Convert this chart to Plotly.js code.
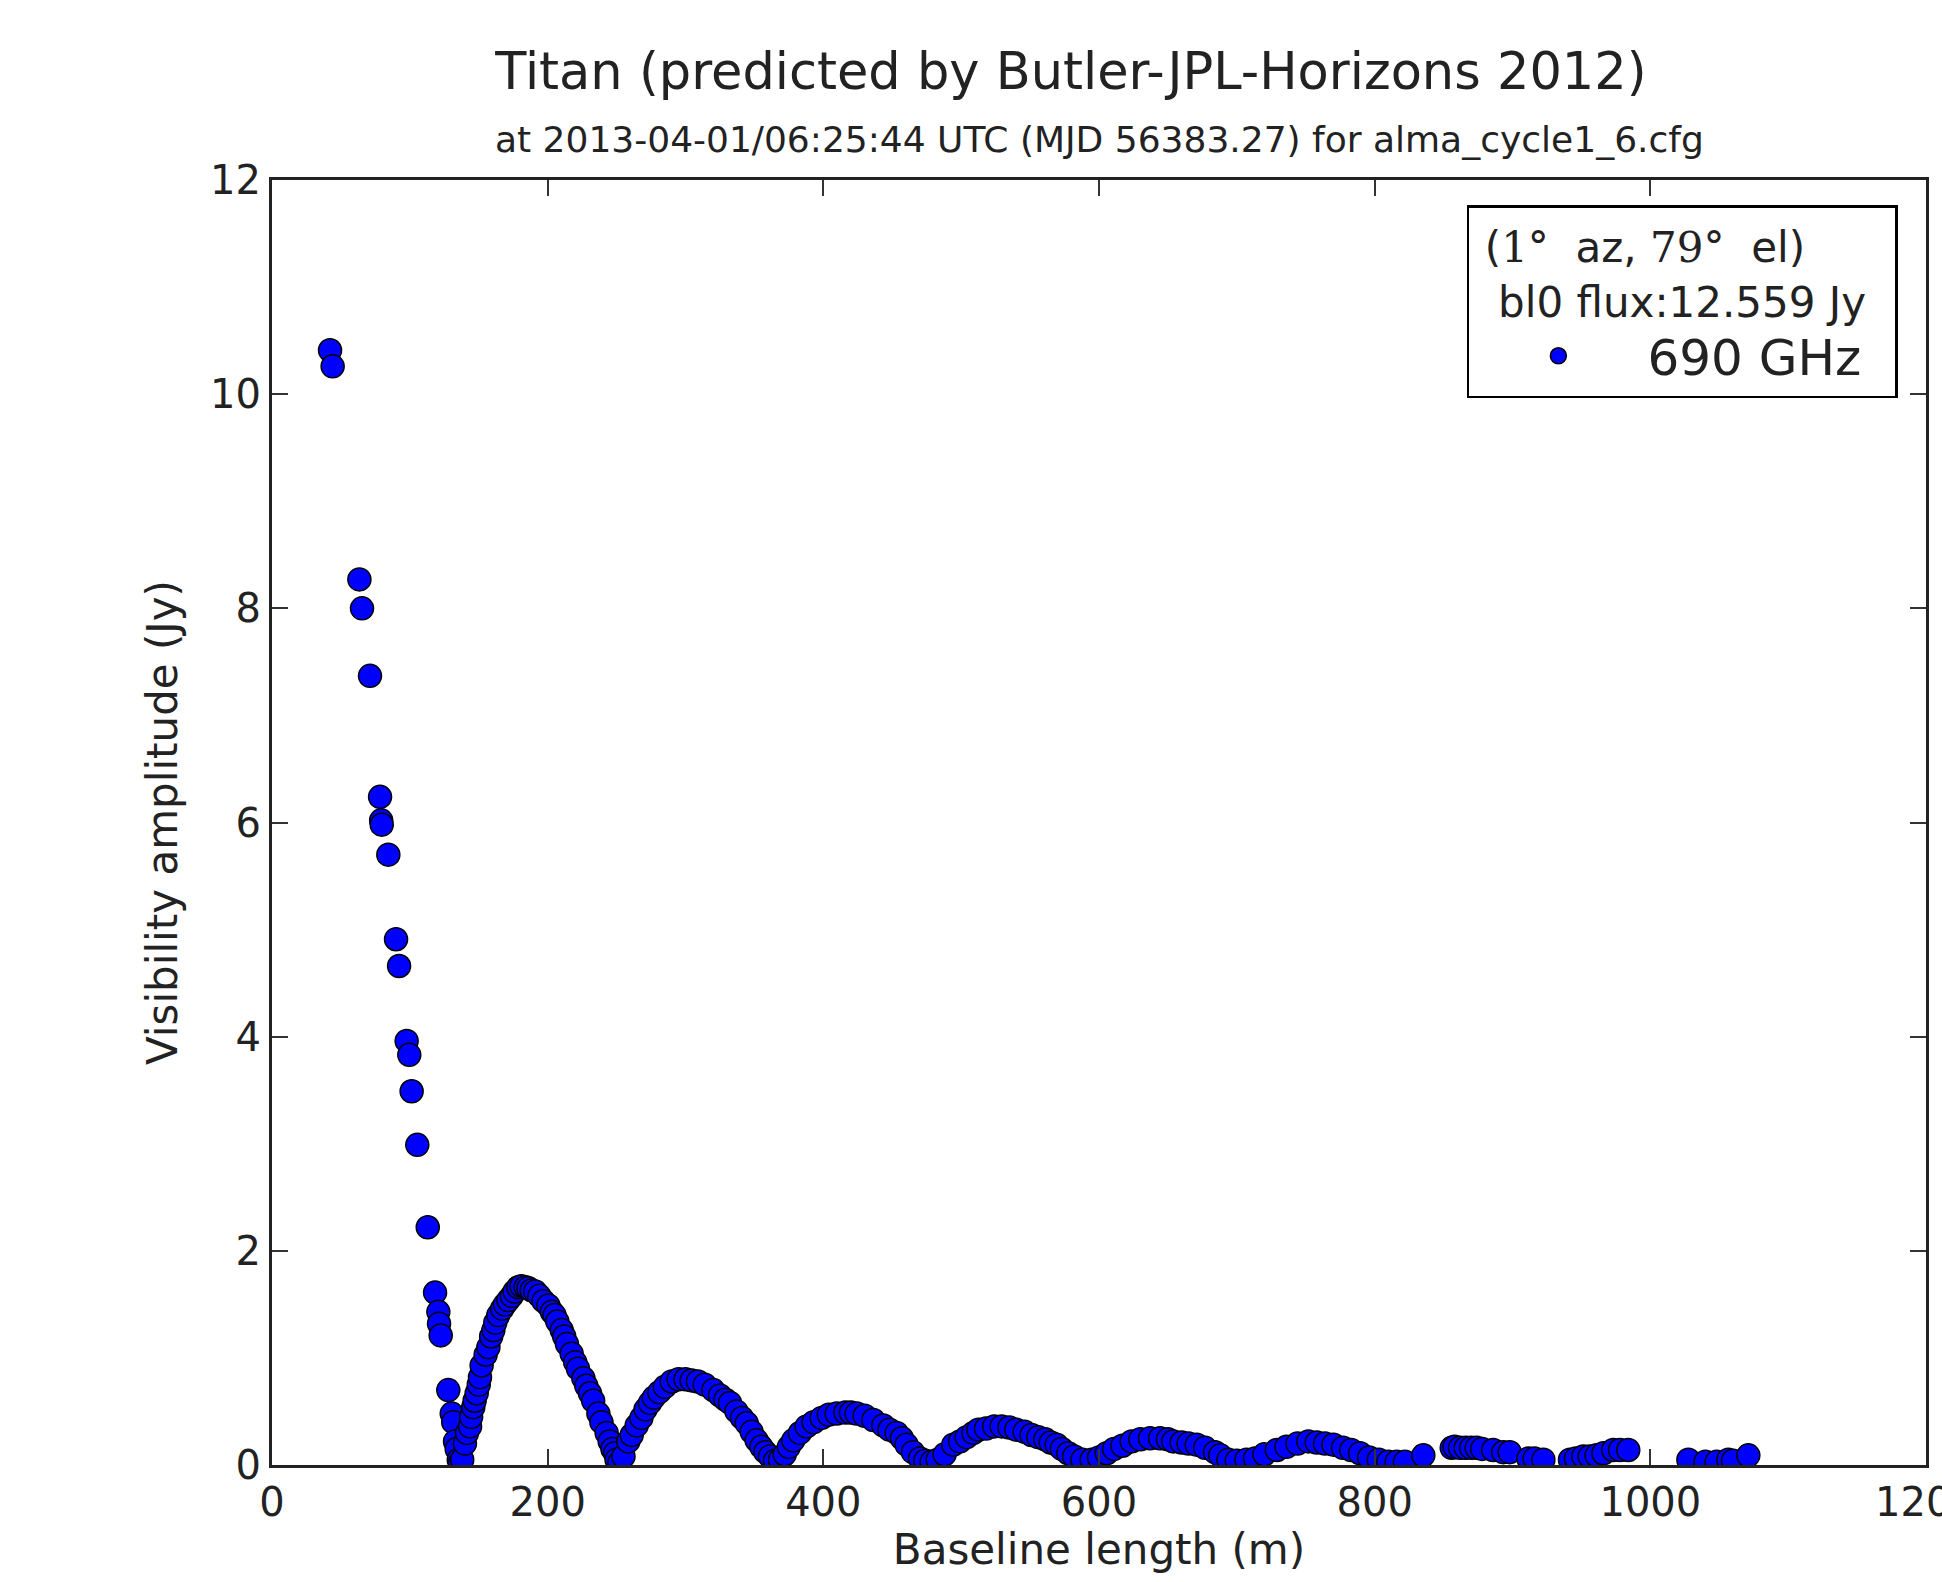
<!DOCTYPE html>
<html>
<head>
<meta charset="utf-8">
<script src="https://cdn.plot.ly/plotly-3.0.1.min.js"></script>
<style>
  html, body { margin: 0; padding: 0; background: #ffffff; }
  #chart { width: 1942px; height: 1582px; }
</style>
</head>
<body>
<div id="chart"></div>
<script>
// Baseline length (m) and visibility amplitude (Jy)
const baselineLength = [
  42.1, 44.0, 63.4, 65.3, 71.1, 78.4, 79.2, 79.6, 84.4, 90.0, 92.2, 97.7, 99.6, 101.3, 105.4, 113.0,
  118.3, 120.7, 121.2, 122.4,
  127.9, 130.4, 131.5, 132.8, 134.0, 135.5, 136.4,
  138.0, 140.0, 141.5, 143.7, 144.5, 146.0, 147.0, 148.5, 150.0, 150.9, 152.1, 155.0, 157.0, 159.0,
  160.6, 162.0, 164.2, 167.0, 169.0, 171.5, 174.0, 176.0, 178.7, 181.0, 184.0, 186.0, 188.4, 191.0,
  194.0, 197.0, 200.5, 203.0, 205.0, 207.0, 210.2, 212.0, 214.0, 217.4, 220.0, 222.0, 225.9, 228.0,
  230.7, 233.0, 236.8, 239.0, 242.8, 245.0, 247.0, 248.9, 250.0, 252.0,
  255.0, 258.5, 261.0, 264.6, 268.0, 271.0, 274.2, 277.0, 281.0, 285.0, 290.0, 295.0, 300.0, 304.5,
  309.0, 314.0, 320.2, 325.0, 329.0, 332.3, 337.0, 341.0, 344.4, 348.0, 351.6, 355.0, 358.0, 361.3,
  365.0, 368.6,
  372.0, 375.0, 378.2, 383.0, 387.9, 393.0, 398.8, 404.0, 409.7, 416.0, 420.0, 424.2, 430.0, 436.3,
  443.5, 448.0, 453.2, 457.0, 460.4, 465.0, 470.1, 474.0, 478.6, 483.0,
  488.0, 494.3, 499.2, 504.0, 508.9, 512.5, 518.0, 524.0, 529.4, 535.0, 540.0, 546.0, 551.1, 556.0,
  561.0, 565.0, 569.3, 573.0, 577.7, 582.0, 588.0, 594.7,
  600.0, 605.6, 611.0, 617.0, 623.7, 630.0, 637.0, 644.3, 650.0, 653.9, 660.0, 665.0, 670.9, 677.0,
  684.2, 688.0, 693.9, 700.0,
  707.0, 713.2, 720.0, 729.0, 736.0, 744.0, 751.9, 758.0, 764.0, 770.1, 777.0, 783.0, 789.4, 796.0,
  803.0, 809.9, 816.0, 822.0,
  835.3, 855.9, 858.0, 861.9, 866.0, 870.0, 874.0, 878.0, 886.0, 893.3, 898.0, 911.5, 916.0, 922.4,
  941.7, 946.0, 951.4, 956.0, 961.0, 966.0, 973.1, 978.0, 984.0,
  1027.6, 1040.0, 1048.1, 1056.6, 1060.0, 1071.1
];
const visAmplitude = [
  10.41, 10.26, 8.27, 8.00, 7.37, 6.24, 6.02, 5.98, 5.70, 4.91, 4.66, 3.96, 3.83, 3.49, 2.99, 2.22,
  1.61, 1.43, 1.32, 1.21,
  0.70, 0.48, 0.40, 0.22, 0.15, 0.05, 0.02,
  0.05, 0.20, 0.30, 0.36, 0.45, 0.54, 0.60, 0.67, 0.75, 0.82, 0.93, 1.03, 1.10, 1.20,
  1.26, 1.33, 1.40, 1.46, 1.50, 1.54, 1.58, 1.62, 1.66, 1.67, 1.66, 1.65, 1.63, 1.62,
  1.58, 1.53, 1.49, 1.43, 1.40, 1.34, 1.26, 1.20, 1.13, 1.04, 0.96, 0.90, 0.81, 0.74,
  0.67, 0.60, 0.48, 0.40, 0.30, 0.22, 0.15, 0.11, 0.05, 0.02,
  0.08, 0.22, 0.28, 0.37, 0.44, 0.52, 0.58, 0.63, 0.68, 0.73, 0.78, 0.80, 0.80, 0.79,
  0.78, 0.75, 0.70, 0.65, 0.61, 0.58, 0.50, 0.44, 0.39, 0.31, 0.23, 0.17, 0.12, 0.08,
  0.04, 0.05,
  0.10, 0.17, 0.23, 0.30, 0.36, 0.40, 0.44, 0.47, 0.48, 0.49, 0.49, 0.48, 0.46, 0.42,
  0.37, 0.33, 0.30, 0.25, 0.19, 0.12, 0.06, 0.04, 0.03, 0.05,
  0.10, 0.19, 0.22, 0.26, 0.30, 0.33, 0.34, 0.36, 0.36, 0.35, 0.33, 0.31, 0.28, 0.26,
  0.24, 0.21, 0.19, 0.15, 0.11, 0.08, 0.05, 0.05,
  0.07, 0.11, 0.15, 0.18, 0.22, 0.24, 0.25, 0.25, 0.24, 0.22, 0.21, 0.20, 0.19, 0.16,
  0.12, 0.09, 0.05, 0.04,
  0.05, 0.06, 0.10, 0.14, 0.17, 0.20, 0.22, 0.21, 0.20, 0.19, 0.16, 0.14, 0.11, 0.07,
  0.05, 0.03, 0.03, 0.03,
  0.09, 0.16, 0.17, 0.16, 0.16, 0.16, 0.16, 0.15, 0.14, 0.12, 0.12, 0.06, 0.06, 0.05,
  0.05, 0.06, 0.08, 0.08, 0.09, 0.11, 0.14, 0.14, 0.14,
  0.05, 0.03, 0.03, 0.05, 0.04, 0.09
];
const seriesName = '690 GHz';
const xTickValues = [0, 200, 400, 600, 800, 1000, 1200];
const yTickValues = [0, 2, 4, 6, 8, 10, 12];
const chartTitle = 'Titan (predicted by Butler-JPL-Horizons 2012)';
const chartSubtitle = 'at 2013-04-01/06:25:44 UTC (MJD 56383.27) for alma_cycle1_6.cfg';
const legendHeader = '&nbsp;(<span style="font-family:\'DejaVu Serif\'">1°</span>&nbsp;&nbsp;az, <span style="font-family:\'DejaVu Serif\'">79°</span>&nbsp;&nbsp;el)<br>&nbsp;&nbsp;bl0 flux:12.559 Jy&nbsp;&nbsp;';

const FONT = 'DejaVu Sans, Bitstream Vera Sans, sans-serif';

const trace = {
  type: 'scatter',
  mode: 'markers',
  x: baselineLength,
  y: visAmplitude,
  name: seriesName,
  marker: {
    color: '#0000ff',
    size: 23,
    line: { color: '#000000', width: 1.5 }
  },
  hoverinfo: 'x+y'
};

const axisCommon = {
  showgrid: false,
  zeroline: false,
  showline: true,
  linecolor: '#222222',
  linewidth: 3,
  mirror: 'ticks',
  ticks: 'inside',
  ticklen: 16,
  tickwidth: 1.5,
  tickcolor: '#333333',
  ticklabeloverflow: 'allow',
  tickfont: { family: FONT, size: 40, color: '#222222' }
};

const layout = {
  width: 1942,
  height: 1582,
  paper_bgcolor: '#ffffff',
  plot_bgcolor: '#ffffff',
  margin: { l: 272, r: 16, t: 180, b: 117, pad: 0 },
  font: { family: FONT, color: '#222222' },
  title: {
    text: chartTitle,
    font: { family: FONT, size: 51, color: '#222222' },
    xref: 'container',
    x: 0.5515,
    xanchor: 'center',
    yref: 'container',
    y: 0.955,
    yanchor: 'middle'
  },
  annotations: [{
    text: chartSubtitle,
    xref: 'paper', yref: 'paper',
    x: 0.5, y: 1.0319,
    xanchor: 'center', yanchor: 'middle',
    showarrow: false,
    font: { family: FONT, size: 36, color: '#222222' }
  }],
  xaxis: Object.assign({}, axisCommon, {
    range: [0, 1200],
    tickvals: xTickValues,
    ticktext: xTickValues.map(String),
    title: { text: 'Baseline length (m)', font: { family: FONT, size: 42, color: '#222222' }, standoff: 6 }
  }),
  yaxis: Object.assign({}, axisCommon, {
    range: [0, 12],
    tickvals: yTickValues,
    ticktext: yTickValues.map(String),
    title: { text: 'Visibility amplitude (Jy)', font: { family: FONT, size: 42, color: '#222222' }, standoff: 20 }
  }),
  showlegend: true,
  legend: {
    x: 0.983,
    xanchor: 'right',
    y: 0.9805,
    yanchor: 'top',
    bgcolor: '#ffffff',
    bordercolor: '#000000',
    borderwidth: 2.5,
    font: { family: FONT, size: 50, color: '#222222' },
    title: { text: legendHeader, font: { family: FONT, size: 42, color: '#222222' }, side: 'top' },
    itemwidth: 168
  }
};

Plotly.newPlot('chart', [trace], layout, { displayModeBar: false, responsive: false });
</script>
</body>
</html>
